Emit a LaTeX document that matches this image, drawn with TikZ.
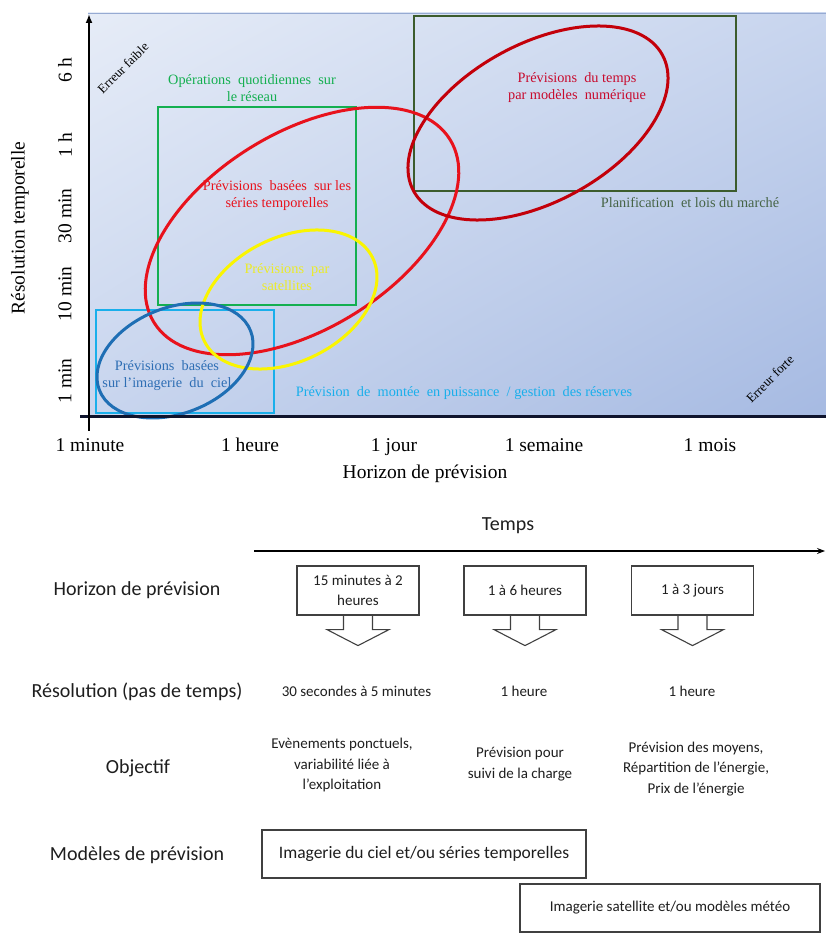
\documentclass[tikz,border=0pt]{standalone}
\usepackage{fontspec}
\setmainfont{Liberation Serif}
\newfontfamily\calib{Carlito}
\usetikzlibrary{arrows.meta,shadings}

\definecolor{bgA}{RGB}{230,236,247}
\definecolor{bgB}{RGB}{200,213,238}
\definecolor{bgC}{RGB}{166,186,226}
\definecolor{bgEdge}{RGB}{150,170,210}
\definecolor{axisNavy}{RGB}{15,20,45}
\definecolor{cRed}{RGB}{232,18,28}
\definecolor{cDarkRed}{RGB}{195,0,10}
\definecolor{cDarkRedTxt}{RGB}{200,10,45}
\definecolor{cYellow}{RGB}{250,245,0}
\definecolor{cYellowTxt}{RGB}{235,235,40}
\definecolor{cBlue}{RGB}{30,110,180}
\definecolor{cBlueTxt}{RGB}{46,110,180}
\definecolor{cGreen}{RGB}{20,175,80}
\definecolor{cLightBlue}{RGB}{25,175,235}
\definecolor{cDarkGreen}{RGB}{60,92,45}
\definecolor{cDarkGreenTxt}{RGB}{70,100,70}
\definecolor{boxGray}{RGB}{64,64,64}
\definecolor{txtGray}{RGB}{30,30,30}

\begin{document}
\begin{tikzpicture}[x=1pt,y=1pt,
  axislbl/.style={font=\fontsize{19.5}{21}\selectfont, inner sep=0pt},
  zonelbl/.style={font=\fontsize{14.3}{17}\selectfont, align=center, inner sep=0pt},
  errlbl/.style={font=\fontsize{13}{15}\selectfont, inner sep=0pt, rotate=45},
  rowlbl/.style={font=\calib\fontsize{20}{24}\selectfont, text=txtGray, inner sep=0pt},
  celltxt/.style={font=\calib\fontsize{15}{20.5}\selectfont, text=txtGray, align=center, inner sep=0pt},
  hbox/.style={draw=boxGray, line width=1.2pt, minimum width=122pt, minimum height=49pt,
    font=\calib\fontsize{15}{20}\selectfont, text=txtGray, align=center, inner sep=2pt},
  harrow/.style={draw=boxGray, line width=1.1pt, line join=miter},
  mbox/.style={draw=boxGray, line width=1.2pt, minimum height=48pt, text=txtGray, inner sep=0pt}
]
\useasboundingbox (0,0) rectangle (826,-933);

% ---------- chart background ----------
\shade[upper left=bgA, upper right=bgB, lower left=bgB, lower right=bgC]
  (88,-13) rectangle (826,-416);
\draw[bgEdge, line width=1pt] (88,-13.5) -- (826,-13.5);

% ---------- zones ----------
\draw[cGreen, line width=2pt] (158,-107) rectangle (356,-305);
\draw[cLightBlue, line width=2pt] (96,-310) rectangle (274,-413);
\draw[cDarkGreen, line width=2.2pt] (414,-16) rectangle (736,-191);

\draw[cRed, line width=3pt, rotate around={31.7:(302,-231)}]
  (302,-231) ellipse [x radius=174pt, y radius=98pt];
\draw[cDarkRed, line width=3pt, rotate around={28.7:(538,-123)}]
  (538,-123) ellipse [x radius=141.8pt, y radius=78.8pt];
\draw[cYellow, line width=3pt, rotate around={26.5:(288.5,-299.5)}]
  (288.5,-299.5) ellipse [x radius=93.9pt, y radius=62pt];
\draw[cBlue, line width=3pt, rotate around={21.4:(175,-360.5)}]
  (175,-360.5) ellipse [x radius=81.2pt, y radius=52.9pt];

% ---------- zone labels ----------
\node[zonelbl, text=cGreen] (lops) at (252,-88) {Opérations\ \ quotidiennes\ \ sur\\le réseau};
\node[zonelbl, text=cRed] (lser) at (277,-196) {Prévisions\ \ basées\ \ sur\ les\\séries\ temporelles};
\node[zonelbl, text=cYellowTxt] (lsat) at (287,-277) {Prévisions\ \ par\\satellites};
\node[zonelbl, text=cBlueTxt] (lsky) at (167,-376) {Prévisions\ \ basées\\sur l’imagerie\ \ du\ \ ciel};
\node[zonelbl, text=cDarkRedTxt] (lnwp) at (577,-88) {Prévisions\ \ du\ temps\\par\ modèles\ \ numérique};
\node[zonelbl, text=cDarkGreenTxt] (lplan) at (690,-203) {Planification\ \ et\ lois\ du\ marché};
\node[zonelbl, text=cLightBlue] (lres) at (464,-393) {Prévision\ \ de\ \ montée\ \ en\ puissance\ \ /\ gestion\ \ des\ réserves};

\node[errlbl] (efaib) at (123,-68) {Erreur faible};
\node[errlbl] (efort) at (770,-379) {Erreur forte};

% ---------- axes ----------
\coordinate (org) at (89,-416);
\coordinate (ytop) at (89,-14);
\coordinate (xend) at (826,-416);
\coordinate (xstart) at (80,-416);
\coordinate (tick) at (89,-431);
\draw[line width=3pt, axisNavy] (xstart) -- (xend);
\draw[line width=2.5pt, -{Latex[length=9pt,width=7pt]}] (org) -- (ytop);
\draw[line width=2.5pt] (org) -- (tick);

\node[axislbl, rotate=90] (y6h) at (65,-70) {6 h};
\node[axislbl, rotate=90] (y1h) at (65,-145) {1 h};
\node[axislbl, rotate=90] (y30) at (65,-216) {30 min};
\node[axislbl, rotate=90] (y10) at (65,-294) {10 min};
\node[axislbl, rotate=90] (y1m) at (65,-381) {1 min};
\node[axislbl, rotate=90] (ylab) at (20,-228) {Résolution temporelle};

\node[axislbl, anchor=base] (x1m) at (90,-451) {1 minute};
\node[axislbl, anchor=base] (x1h) at (250,-451) {1 heure};
\node[axislbl, anchor=base] (x1j) at (394,-451) {1 jour};
\node[axislbl, anchor=base] (x1s) at (544,-451) {1 semaine};
\node[axislbl, anchor=base] (x1mo) at (710,-451) {1 mois};
\node[axislbl] (xlab) at (425,-474) {Horizon de prévision};

% ---------- time line ----------
\coordinate (t0) at (254,-551);
\coordinate (t1) at (825,-551);
\draw[line width=1.1pt, -{Stealth[length=8pt,width=6pt]}] (t0) -- (t1);
\node[rowlbl] (temps) at (508,-526) {Temps};

% ---------- row titles ----------
\node[rowlbl] (rh) at (137,-590) {Horizon de prévision};
\node[rowlbl] (rr) at (137,-692) {Résolution (pas de temps)};
\node[rowlbl] (ro) at (138,-768) {Objectif};
\node[rowlbl] (rm) at (137,-855) {Modèles de prévision};

% ---------- horizons ----------
\node[hbox] (h1) at (358,-590.5) {15 minutes à 2\\heures};
\node[hbox] (h2) at (525,-590.5) {1 à 6 heures};
\node[hbox] (h3) at (692.5,-590.5) {1 à 3 jours};

\foreach \b in {h1,h2,h3}{
  \draw[harrow] ([xshift=-14.5pt]\b.south) -- ++(0,-14) -- ++(-16.5,0) -- ++(31,-16)
    -- ++(31,16) -- ++(-16.5,0) -- ++(0,14);
}

% ---------- resolutions ----------
\node[celltxt] (r1) at (356.5,-691) {30 secondes à 5 minutes};
\node[celltxt] (r2) at (524,-691) {1 heure};
\node[celltxt] (r3) at (692,-691) {1 heure};

% ---------- objectives ----------
\node[celltxt] (o1) at (342,-765) {Evènements\ ponctuels,\\variabilité liée à\\l’exploitation};
\node[celltxt] (o2) at (520,-764) {Prévision pour\\suivi de la charge};
\node[celltxt] (o3) at (696,-769) {Prévision des moyens,\\Répartition de l’énergie,\\Prix de l’énergie};

% ---------- models ----------
\node[mbox, minimum width=324pt, font=\calib\fontsize{17.5}{20}\selectfont] (m1) at (424,-854)
  {Imagerie du ciel et/ou séries temporelles};
\node[mbox, minimum width=300pt, font=\calib\fontsize{15}{18}\selectfont] (m2) at (670,-908)
  {Imagerie satellite et/ou modèles météo};
\end{tikzpicture}
\end{document}
